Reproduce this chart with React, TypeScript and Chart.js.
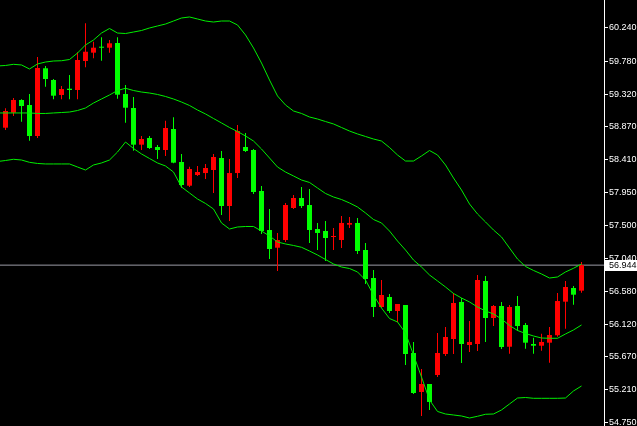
import React, { useEffect, useRef } from "react";
import { Chart, registerables } from "chart.js";

Chart.register(...registerables);

// ---- Data ----
const opens = [
  58.854, 59.063, 59.239, 59.170, 58.739, 59.680, 59.517, 59.309, 59.396, 59.378,
  59.781, 59.897, 59.976, 59.966, 60.031, 59.322, 59.128, 58.618, 58.711, 58.586,
  58.544, 58.836, 58.377, 58.048, 58.197, 58.224, 58.266, 58.433, 57.766, 58.224,
  58.586, 58.544, 57.974, 57.432, 57.186, 57.293, 57.738, 57.877, 57.780, 57.446,
  57.418, 57.335, 57.293, 57.506, 57.530, 57.154, 56.765, 56.362, 56.501, 56.306,
  56.390, 55.723, 55.181, 55.292, 55.417, 55.709, 55.917, 56.432, 55.834, 55.848,
  56.723, 56.209, 56.376, 55.810, 56.376, 56.112, 55.848, 55.824, 55.866, 55.969,
  56.436, 56.626, 56.589,
];
const highs = [
  59.124, 59.267, 59.249, 59.322, 59.837, 59.712, 59.531, 59.434, 59.587, 59.902,
  60.305, 60.049, 60.111, 60.073, 60.111, 59.448, 59.281, 58.739, 58.739, 58.614,
  58.951, 58.999, 58.489, 58.312, 58.322, 58.350, 58.489, 58.530, 58.419, 58.892,
  58.780, 58.558, 58.044, 57.724, 57.391, 57.808, 57.919, 58.030, 58.002, 57.530,
  57.557, 57.460, 57.627, 57.613, 57.599, 57.252, 56.876, 56.737, 56.543, 56.404,
  56.390, 55.876, 55.500, 55.292, 56.001, 56.084, 56.557, 56.487, 56.167, 56.807,
  56.793, 56.390, 56.432, 56.390, 56.515, 56.140, 55.935, 55.991, 56.084, 56.557,
  56.723, 56.654, 56.987,
];
const lows = [
  58.822, 59.017, 58.937, 58.673, 58.711, 59.424, 59.249, 59.249, 59.249, 59.249,
  59.694, 59.819, 59.785, 59.897, 59.257, 58.924, 58.534, 58.544, 58.558, 58.419,
  58.461, 58.360, 58.020, 58.030, 58.183, 58.141, 57.946, 57.641, 57.557, 58.155,
  58.516, 57.933, 57.377, 57.029, 56.862, 57.265, 57.724, 57.738, 57.252, 57.154,
  57.001, 57.154, 57.182, 57.460, 57.099, 56.682, 56.223, 56.348, 56.279, 56.154,
  55.556, 55.153, 54.847, 54.930, 55.389, 55.681, 55.709, 55.584, 55.737, 55.750,
  55.876, 56.098, 55.778, 55.713, 56.033, 55.782, 55.713, 55.755, 55.588, 55.949,
  56.060, 56.394, 56.561,
];
const closes = [
  59.086, 59.239, 59.156, 58.739, 59.684, 59.531, 59.299, 59.392, 59.378, 59.795,
  59.910, 59.966, 59.966, 60.027, 59.313, 59.132, 58.618, 58.697, 58.572, 58.544,
  58.850, 58.368, 58.058, 58.280, 58.238, 58.294, 58.447, 57.766, 58.224, 58.808,
  58.530, 57.960, 57.418, 57.168, 57.293, 57.780, 57.877, 57.766, 57.432, 57.391,
  57.321, 57.349, 57.530, 57.530, 57.140, 56.751, 56.362, 56.529, 56.306, 56.404,
  55.709, 55.167, 55.292, 55.042, 55.723, 55.945, 56.418, 55.848, 55.876, 56.737,
  56.209, 56.376, 55.806, 56.362, 56.098, 55.866, 55.824, 55.876, 55.973, 56.445,
  56.640, 56.533, 56.944,
];

// Bollinger bands: first value belongs to the bar just before the first visible candle
const bandUpper = [
  59.712, 59.719, 59.735, 59.726, 59.670, 59.740, 59.767, 59.781, 59.785, 59.802,
  59.892, 60.004, 60.073, 60.170, 60.233, 60.170, 60.163, 60.184, 60.205, 60.240,
  60.268, 60.295, 60.337, 60.379, 60.393, 60.365, 60.337, 60.323, 60.337, 60.337,
  60.282, 60.143, 59.962, 59.753, 59.517, 59.295, 59.170, 59.086, 59.052, 59.003,
  58.975, 58.940, 58.906, 58.857, 58.808, 58.767, 58.732, 58.697, 58.669, 58.579,
  58.475, 58.391, 58.391, 58.461, 58.537, 58.475, 58.336, 58.155, 57.988, 57.794,
  57.655, 57.544, 57.432, 57.335, 57.182, 57.029, 56.925, 56.870, 56.821, 56.765,
  56.779, 56.849, 56.900, 56.960,
];
const bandMiddle = [
  59.059, 59.059, 59.059, 59.059, 59.059, 59.052, 59.052, 59.059, 59.065, 59.072,
  59.093, 59.128, 59.197, 59.253, 59.309, 59.371, 59.402, 59.371, 59.350, 59.336,
  59.316, 59.288, 59.253, 59.211, 59.163, 59.100, 59.045, 58.982, 58.920, 58.857,
  58.801, 58.739, 58.669, 58.558, 58.433, 58.308, 58.238, 58.183, 58.127, 58.093,
  58.016, 57.940, 57.891, 57.856, 57.808, 57.752, 57.669, 57.578, 57.530, 57.418,
  57.279, 57.154, 57.015, 56.918, 56.807, 56.724, 56.640, 56.550, 56.487, 56.432,
  56.362, 56.307, 56.265, 56.195, 56.105, 56.036, 55.994, 55.959, 55.931, 55.927,
  55.927, 55.987, 56.043, 56.112,
];
const bandLower = [
  58.384, 58.398, 58.415, 58.405, 58.373, 58.357, 58.350, 58.350, 58.350, 58.350,
  58.308, 58.266, 58.336, 58.364, 58.405, 58.516, 58.655, 58.565, 58.489, 58.426,
  58.364, 58.322, 58.238, 58.030, 57.947, 57.863, 57.801, 57.724, 57.530, 57.446,
  57.474, 57.481, 57.481, 57.418, 57.349, 57.266, 57.238, 57.217, 57.192, 57.140,
  57.085, 57.022, 56.960, 56.918, 56.897, 56.849, 56.737, 56.529, 56.348, 56.202,
  56.154, 56.001, 55.695, 55.389, 55.070, 54.910, 54.875, 54.861, 54.847, 54.819,
  54.843, 54.871, 54.875, 54.931, 55.014, 55.097, 55.104, 55.093, 55.093, 55.093,
  55.093, 55.097, 55.195, 55.264,
];

const yTickValues = [
  54.75, 55.21, 55.67, 56.12, 56.58, 57.04, 57.5, 57.95, 58.41, 58.87, 59.32, 59.78, 60.24,
];
const currentPrice = 56.944;

const Y_MIN = 54.708;
const Y_MAX = 60.629;
const X_MIN = -0.6875;
const X_MAX = 74.8125;

const UP_COLOR = "#ff0000";
const DOWN_COLOR = "#00ff00";
const BAND_COLOR = "#00ee00";
const PRICE_LINE_COLOR = "#9c9ca6";
const FONT_FAMILY = '"Liberation Sans", Arial, sans-serif';

const priceBoxPlugin = {
  id: "priceBox",
  afterDraw(chart: any) {
    const ctx = chart.ctx;
    const yScale = chart.scales.y;
    const y = yScale.getPixelForValue(currentPrice);
    const x0 = chart.chartArea.right + 1;
    ctx.save();
    ctx.fillStyle = "#ffffff";
    ctx.fillRect(x0, Math.round(y) - 5, chart.width - x0, 11);
    ctx.fillStyle = "#000000";
    ctx.font = `9px ${FONT_FAMILY}`;
    ctx.textBaseline = "middle";
    ctx.textAlign = "left";
    ctx.fillText(currentPrice.toFixed(3), x0 + 4, Math.round(y) + 0.5);
    ctx.restore();
  },
};

export default function App() {
  const canvasRef = useRef<HTMLCanvasElement | null>(null);

  useEffect(() => {
    document.body.style.margin = "0";
    document.body.style.background = "#000";
    const canvas = canvasRef.current;
    if (!canvas) return;

    const idx = opens.map((_, i) => i);
    const colors = idx.map((i) => (closes[i] >= opens[i] ? UP_COLOR : DOWN_COLOR));
    const bodies = idx.map((i) => ({ x: i, y: [opens[i], closes[i]] }));
    const wicks = idx.map((i) => ({ x: i, y: [lows[i], highs[i]] }));
    const band = (arr: number[]) => arr.map((v, k) => ({ x: k - 1, y: v }));

    const lineDefaults = {
      type: "line" as const,
      borderWidth: 1,
      pointRadius: 0,
      tension: 0,
      fill: false,
    };

    const chart = new Chart(canvas, {
      type: "bar",
      data: {
        datasets: [
          { ...lineDefaults, data: band(bandUpper), borderColor: BAND_COLOR, order: 0 } as any,
          { ...lineDefaults, data: band(bandMiddle), borderColor: BAND_COLOR, order: 0 } as any,
          { ...lineDefaults, data: band(bandLower), borderColor: BAND_COLOR, order: 0 } as any,
          {
            type: "bar",
            data: bodies,
            backgroundColor: colors,
            borderWidth: 0,
            barThickness: 5,
            grouped: false,
            minBarLength: 1,
            inflateAmount: 0,
            order: 1,
          } as any,
          {
            type: "bar",
            data: wicks,
            backgroundColor: colors,
            borderWidth: 0,
            barThickness: 1,
            grouped: false,
            inflateAmount: 0,
            order: 2,
          } as any,
          {
            ...lineDefaults,
            data: [
              { x: X_MIN, y: currentPrice },
              { x: X_MAX, y: currentPrice },
            ],
            borderColor: PRICE_LINE_COLOR,
            order: 3,
          } as any,
        ],
      },
      options: {
        animation: false,
        responsive: false,
        maintainAspectRatio: false,
        devicePixelRatio: 1,
        layout: { padding: 0 },
        plugins: {
          legend: { display: false },
          tooltip: { enabled: false },
        },
        scales: {
          x: {
            type: "linear",
            display: false,
            min: X_MIN,
            max: X_MAX,
            offset: false,
            grid: { display: false },
          },
          y: {
            type: "linear",
            position: "right",
            min: Y_MIN,
            max: Y_MAX,
            afterFit: (scale: any) => {
              scale.width = 33;
              scale.paddingTop = 0;
              scale.paddingBottom = 0;
            },
            afterBuildTicks: (scale: any) => {
              scale.ticks = yTickValues.map((v) => ({ value: v }));
            },
            ticks: {
              color: "#ffffff",
              font: { family: FONT_FAMILY, size: 9 },
              padding: 1,
              autoSkip: false,
              callback: (v: any) => Number(v).toFixed(3),
            },
            grid: {
              drawOnChartArea: false,
              drawTicks: true,
              tickLength: 4,
              color: "#ffffff",
            },
            border: { display: true, color: "#ffffff", width: 1 },
          },
        },
      } as any,
      plugins: [priceBoxPlugin],
    });

    return () => chart.destroy();
  }, []);

  return (
    <div style={{ width: 637, height: 426, background: "#000" }}>
      <canvas ref={canvasRef} width={637} height={426} style={{ display: "block" }} />
    </div>
  );
}
